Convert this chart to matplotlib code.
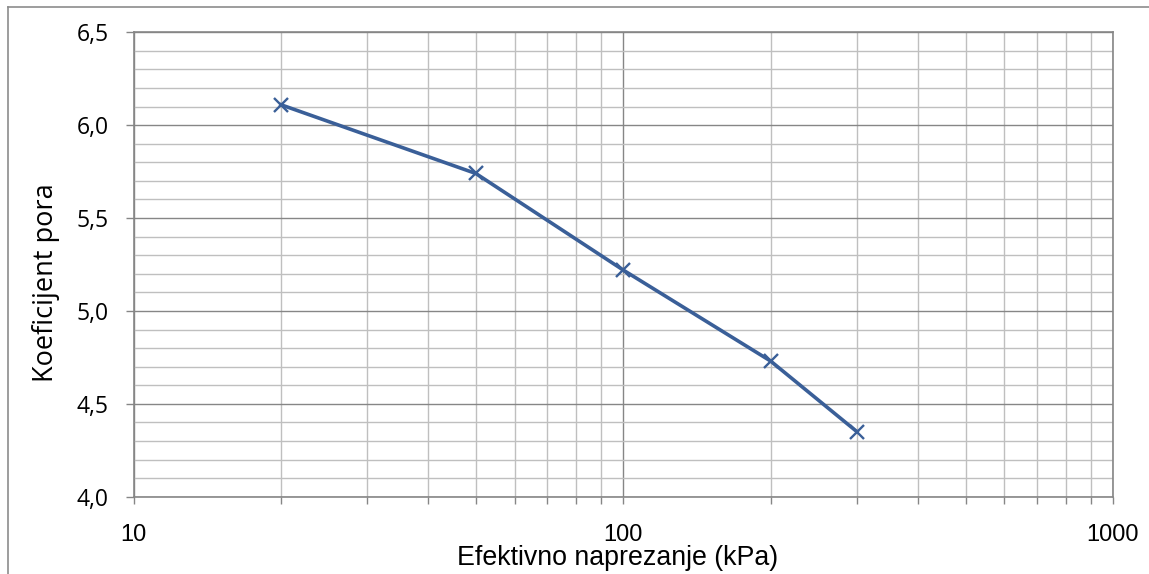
import numpy as np
import matplotlib
matplotlib.use('Agg')
import matplotlib.pyplot as plt
from matplotlib.lines import Line2D
from matplotlib.ticker import LogLocator, NullFormatter, FixedLocator, FuncFormatter

# data
stress_kpa = [20, 50, 100, 200, 300]
void_ratio = [6.11, 5.74, 5.22, 4.73, 4.35]
x_tick_labels = ['10', '100', '1000']
y_ticks = [4.0, 4.5, 5.0, 5.5, 6.0, 6.5]

LINE_COLOR = '#3A5F98'
MAJOR_GRID = '#868686'
MINOR_GRID = '#BFBFBF'

W, H = 1149, 574
fig = plt.figure(figsize=(W/100, H/100), dpi=100)
ax = fig.add_axes([133.5/W, 1-496.7/H, (1113-133.5)/W, (496.7-32.3)/H])

ax.plot(stress_kpa, void_ratio, color=LINE_COLOR, linewidth=2.6,
        marker='x', markersize=10, markeredgewidth=1.7, zorder=5)

ax.set_xscale('log')
ax.set_xlim(10, 1000)
ax.set_ylim(4.0, 6.5)

# x axis: decades labeled, minor ticks at every integer step
ax.xaxis.set_major_locator(FixedLocator([10, 100, 1000]))
ax.xaxis.set_major_formatter(FuncFormatter(lambda v, p: x_tick_labels[[10, 100, 1000].index(int(round(v)))]))
ax.xaxis.set_minor_locator(LogLocator(base=10, subs=np.arange(2, 10)))
ax.xaxis.set_minor_formatter(NullFormatter())

ax.yaxis.set_major_locator(FixedLocator(y_ticks))
ax.yaxis.set_major_formatter(FuncFormatter(lambda v, p: f'{v:.1f}'.replace('.', ',')))
ax.yaxis.set_minor_locator(FixedLocator(np.round(np.arange(4.0, 6.5, 0.1), 1)))

ax.grid(which='major', color=MAJOR_GRID, linewidth=1.0)
ax.grid(which='minor', color=MINOR_GRID, linewidth=1.0)
ax.set_axisbelow(True)

for sp in ax.spines.values():
    sp.set_color(MAJOR_GRID)
    sp.set_linewidth(1.2)

ax.tick_params(axis='x', which='both', direction='out', length=5, width=1, color=MAJOR_GRID,
               pad=15, labelsize=17)
ax.tick_params(axis='y', which='major', direction='out', length=6, width=1, color=MAJOR_GRID,
               pad=12, labelsize=16.5)
ax.tick_params(axis='y', which='minor', length=0)
for lab in ax.get_xticklabels():
    lab.set_family('Liberation Sans')
for lab in ax.get_yticklabels():
    lab.set_family('Open Sans')

ax.set_xlabel('Efektivno naprezanje (kPa)', fontsize=19.3, family='Liberation Sans')
ax.set_ylabel('Koeficijent pora', fontsize=19.5, family='Open Sans')
ax.xaxis.set_label_coords(0.4946, -0.147, transform=ax.transAxes)
ax.xaxis.label.set_va('baseline')
ax.yaxis.set_label_coords(-0.075, 0.462, transform=ax.transAxes)

# outer chart-area border (top and left visible)
fig.add_artist(Line2D([8/W, 1], [1-6.5/H, 1-6.5/H], transform=fig.transFigure, color='#8C8C8C', linewidth=1.2))
fig.add_artist(Line2D([8/W, 8/W], [0, 1-6.5/H], transform=fig.transFigure, color='#8C8C8C', linewidth=1.2))

fig.savefig('out.png', dpi=100)
